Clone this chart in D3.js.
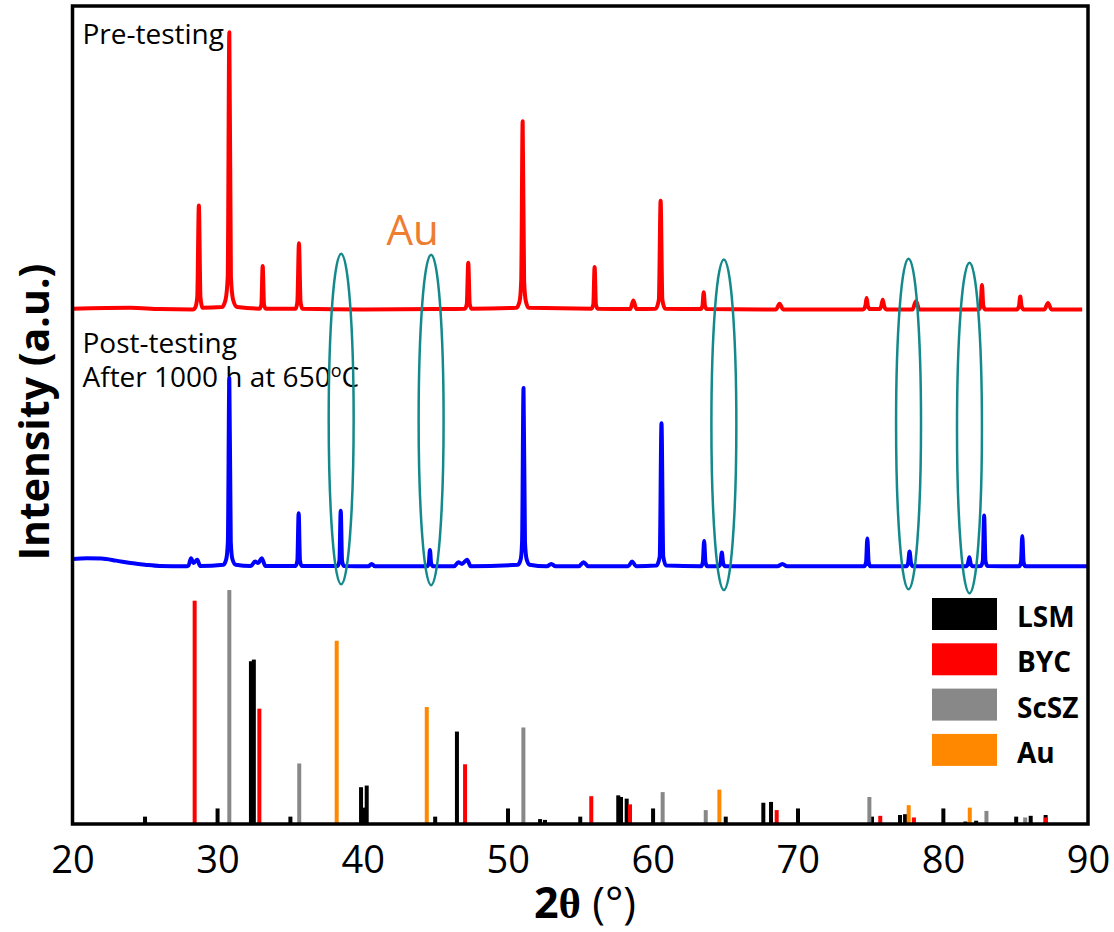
<!DOCTYPE html>
<html>
<head>
<meta charset="utf-8">
<script src="https://cdn.jsdelivr.net/npm/d3@7"></script>
<style>
  body { margin: 0; background: #fff; }
  text { font-family: "Open Sans", sans-serif; }
</style>
</head>
<body>
<div id="chart"></div>
<script>
// Pre-testing pattern: [2theta, intensity above its own baseline]
const preTesting = [
  [20, 0.1], [24, 0.2], [26, 0.05], [28.3, 0],
  [28.45, 0.2], [28.6, 1.5], [28.71, 12.7], [28.82, 1.5], [28.97, 0.2],
  [30.3, 0.3], [30.55, 1.2], [30.7, 4], [30.81, 33.9], [30.92, 4], [31.07, 1.2], [31.35, 0.3],
  [32.9, 0.1], [33.02, 0.6], [33.11, 5.3], [33.2, 0.6], [33.32, 0.1],
  [35.38, 0.1], [35.5, 0.9], [35.61, 8.1], [35.72, 0.9], [35.85, 0.1],
  [40, 0], [45, 0.05],
  [47.05, 0.1], [47.18, 0.7], [47.28, 5.7], [47.38, 0.7], [47.5, 0.1],
  [50.6, 0.2], [50.82, 1], [50.93, 3.5], [51.03, 23.0], [51.13, 3.5], [51.25, 1], [51.45, 0.2],
  [55.77, 0.1], [55.9, 0.6], [55.99, 5.2], [56.08, 0.6], [56.2, 0.1],
  [58.45, 0.05], [58.66, 1.1], [58.87, 0.05],
  [60.2, 0.1], [60.42, 1.2], [60.54, 13.3], [60.66, 1.2], [60.85, 0.1],
  [63.3, 0.05], [63.42, 0.4], [63.51, 2.1], [63.6, 0.4], [63.72, 0.05],
  [68.5, 0], [68.74, 0.7], [68.98, 0],
  [74.5, 0], [74.65, 0.4], [74.74, 1.4], [74.83, 0.4], [74.98, 0.05],
  [75.62, 0.05], [75.75, 0.4], [75.85, 1.2], [75.95, 0.4], [76.1, 0],
  [77.9, 0], [78.14, 1.0], [78.38, 0],
  [82.48, 0], [82.6, 0.5], [82.69, 3.0], [82.78, 0.5], [82.9, 0],
  [85.1, 0], [85.24, 0.4], [85.33, 1.6], [85.42, 0.4], [85.56, 0],
  [87, 0], [87.24, 0.8], [87.48, 0],
  [89.6, 0]
];

// Post-testing pattern (after 1000 h at 650 C)
const postTesting = [
  [20, 0.9], [21, 1.0], [22, 0.95], [23, 0.7], [24, 0.4], [25, 0.2], [26, 0.05], [27.9, 0],
  [28.0, 0.1], [28.17, 1.0], [28.35, 0.4], [28.6, 0.8], [28.8, 0.05],
  [30.4, 0.2], [30.6, 0.9], [30.71, 3], [30.81, 23.0], [30.91, 3], [31.02, 0.9], [31.25, 0.2],
  [32.3, 0.05], [32.58, 0.6], [32.8, 0.4], [33.04, 1.0], [33.3, 0.05],
  [35.38, 0.05], [35.5, 0.7], [35.59, 6.5], [35.68, 0.7], [35.8, 0.05],
  [38.28, 0.05], [38.4, 0.7], [38.49, 6.8], [38.58, 0.7], [38.7, 0.05],
  [40.4, 0], [40.62, 0.3], [40.85, 0],
  [44.45, 0], [44.56, 0.4], [44.64, 2.0], [44.72, 0.4], [44.85, 0],
  [46.3, 0], [46.6, 0.5], [46.85, 0.3], [47.2, 0.8], [47.45, 0],
  [50.7, 0.2], [50.9, 0.9], [50.99, 3], [51.09, 21.8], [51.19, 3], [51.3, 0.9], [51.5, 0.2],
  [52.7, 0], [53.0, 0.3], [53.3, 0],
  [54.9, 0], [55.23, 0.5], [55.55, 0],
  [58.3, 0], [58.58, 0.6], [58.85, 0],
  [60.25, 0.1], [60.48, 1.2], [60.6, 17.5], [60.72, 1.2], [60.92, 0.1],
  [63.33, 0], [63.45, 0.5], [63.54, 3.1], [63.63, 0.5], [63.75, 0],
  [64.55, 0], [64.67, 0.4], [64.76, 1.7], [64.85, 0.4], [64.98, 0],
  [68.6, 0], [68.93, 0.3], [69.25, 0],
  [74.58, 0], [74.7, 0.5], [74.79, 3.4], [74.88, 0.5], [75.0, 0],
  [77.48, 0], [77.6, 0.4], [77.7, 1.8], [77.8, 0.4], [77.92, 0],
  [81.6, 0], [81.72, 0.3], [81.82, 1.1], [81.92, 0.3], [82.05, 0],
  [82.62, 0.05], [82.75, 0.7], [82.84, 6.2], [82.93, 0.7], [83.06, 0.05],
  [85.26, 0], [85.38, 0.5], [85.47, 3.7], [85.56, 0.5], [85.68, 0],
  [90, 0]
];

// Vertical offsets of the two patterns
const preOffset = 62.9;
const postOffset = 31.5;

// Reference sticks [2theta, intensity]
const lsmSticks = [
  [25.0, 0.9], [30.0, 1.9], [32.3, 19.9], [32.5, 20.1], [35.02, 0.9],
  [39.89, 4.5], [40.1, 2.0], [40.28, 4.7], [45.0, 0.9], [46.5, 11.3],
  [50.02, 1.9], [52.23, 0.6], [52.57, 0.5], [55.0, 0.9], [57.62, 3.5],
  [57.81, 3.3], [58.2, 3.1], [60.02, 1.9], [65.03, 0.9], [67.62, 2.6],
  [68.15, 2.7], [70.01, 1.9], [75.11, 0.9], [77.04, 1.1], [77.39, 1.2],
  [80.03, 1.9], [81.55, 0.3], [82.29, 0.4], [85.05, 0.9], [86.05, 1.0], [87.08, 1.1]
];
const bycSticks = [
  [28.42, 27.3], [32.88, 14.1], [47.06, 7.3], [55.76, 3.4], [58.43, 2.4],
  [68.54, 1.7], [75.68, 1.0], [78.0, 0.8], [87.08, 0.8]
];
const scszSticks = [
  [30.81, 28.6], [35.63, 7.4], [51.08, 11.8], [60.68, 3.9], [63.65, 1.7],
  [74.93, 3.3], [83.0, 1.6], [85.67, 0.8]
];
const auSticks = [
  [38.21, 22.4], [44.42, 14.3], [64.59, 4.2], [77.64, 2.3], [81.85, 2.0]
];

// Au marker ellipses [2theta centre, intensity centre]
const auEllipses = [
  [38.52, 49.5], [44.72, 49.4], [64.9, 48.8], [77.63, 48.9], [81.83, 48.4]
];

const legendNames = ["LSM", "BYC", "ScSZ", "Au"];
const legendColours = ["#000000", "#ff0000", "#888888", "#ff8800"];
const xTicks = [20, 30, 40, 50, 60, 70, 80, 90];

function drawChart() {
  const width = 1114;
  const height = 932;
  const margin = { top: 6, right: 26, bottom: 108, left: 72.5 };
  const innerWidth = width - margin.left - margin.right;
  const innerHeight = height - margin.top - margin.bottom;

  const svg = d3
    .select("#chart")
    .append("svg")
    .attr("width", width)
    .attr("height", height);

  const g = svg
    .append("g")
    .attr("transform", `translate(${margin.left},${margin.top})`);

  // Scales
  const x = d3.scaleLinear().domain([20, 90]).range([0, innerWidth]);
  const y = d3.scaleLinear().domain([0, 100]).range([innerHeight, 0]);

  // X axis (labels only, frame drawn below)
  const xAxis = g
    .append("g")
    .attr("transform", `translate(0,${innerHeight})`)
    .call(d3.axisBottom(x).tickValues(xTicks).tickSize(0).tickPadding(22));
  xAxis.select(".domain").remove();
  xAxis
    .selectAll("text")
    .style("font-family", "'Open Sans', sans-serif")
    .style("font-size", "38px")
    .attr("fill", "#000");

  // Annotations
  g.append("text")
    .attr("x", 10)
    .attr("y", 38)
    .style("font-size", "28px")
    .text("Pre-testing");

  g.append("text")
    .attr("x", 10)
    .attr("y", 347)
    .style("font-size", "28px")
    .text("Post-testing");

  const after = g
    .append("text")
    .attr("x", 10)
    .attr("y", 381)
    .style("font-size", "28px");
  after.append("tspan").text("After 1000 h at 650");
  after
    .append("tspan")
    .attr("dy", -10)
    .style("font-size", "18px")
    .text("o");
  after.append("tspan").attr("dy", 10).text("C");

  g.append("text")
    .attr("x", 314)
    .attr("y", 239)
    .style("font-size", "42px")
    .attr("fill", "#ed7d31")
    .text("Au");

  // Reference sticks
  const stickSets = [lsmSticks, bycSticks, scszSticks, auSticks];
  stickSets.forEach((set, i) => {
    g.append("g")
      .selectAll("rect")
      .data(set)
      .enter()
      .append("rect")
      .attr("x", (d) => x(d[0]) - 2)
      .attr("y", (d) => y(d[1]))
      .attr("width", 4)
      .attr("height", (d) => y(0) - y(d[1]))
      .attr("fill", legendColours[i]);
  });

  // Patterns
  const line = (offset) =>
    d3
      .line()
      .x((d) => x(d[0]))
      .y((d) => y(d[1] + offset))
      .curve(d3.curveMonotoneX);

  g.append("path")
    .datum(preTesting)
    .attr("d", line(preOffset))
    .attr("fill", "none")
    .attr("stroke", "#ff0000")
    .attr("stroke-width", 4)
    .attr("stroke-linejoin", "round");

  g.append("path")
    .datum(postTesting)
    .attr("d", line(postOffset))
    .attr("fill", "none")
    .attr("stroke", "#0000ff")
    .attr("stroke-width", 4)
    .attr("stroke-linejoin", "round");

  // Au ellipses
  g.append("g")
    .selectAll("ellipse")
    .data(auEllipses)
    .enter()
    .append("ellipse")
    .attr("cx", (d) => x(d[0]))
    .attr("cy", (d) => y(d[1]))
    .attr("rx", x(20.86) - x(20))
    .attr("ry", y(0) - y(20.2))
    .attr("fill", "none")
    .attr("stroke", "#14898b")
    .attr("stroke-width", 2.5);

  // Legend
  const legend = g
    .append("g")
    .attr("transform", `translate(${innerWidth - 156},${592})`);
  legendNames.forEach((name, i) => {
    legend
      .append("rect")
      .attr("x", 0)
      .attr("y", i * 45.3)
      .attr("width", 65)
      .attr("height", 32)
      .attr("fill", legendColours[i]);
    legend
      .append("text")
      .attr("x", 85)
      .attr("y", i * 45.3 + 29)
      .style("font-size", "28px")
      .style("font-weight", "bold")
      .text(name);
  });

  // Frame
  g.append("rect")
    .attr("x", 0)
    .attr("y", 0)
    .attr("width", innerWidth)
    .attr("height", innerHeight)
    .attr("fill", "none")
    .attr("stroke", "#000")
    .attr("stroke-width", 3.5);

  // Axis titles
  svg
    .append("text")
    .attr("transform", "translate(49,412) rotate(-90)")
    .attr("text-anchor", "middle")
    .style("font-size", "41px")
    .style("font-weight", "bold")
    .text("Intensity (a.u.)");

  const xTitle = svg
    .append("text")
    .attr("x", 585)
    .attr("y", 918)
    .attr("text-anchor", "middle")
    .style("font-size", "43px");
  xTitle.append("tspan").style("font-weight", "bold").text("2");
  xTitle
    .append("tspan")
    .style("font-family", "'Liberation Serif', serif")
    .style("font-weight", "bold")
    .text("θ");
  xTitle.append("tspan").text(" (°)");
}

drawChart();
</script>
</body>
</html>
